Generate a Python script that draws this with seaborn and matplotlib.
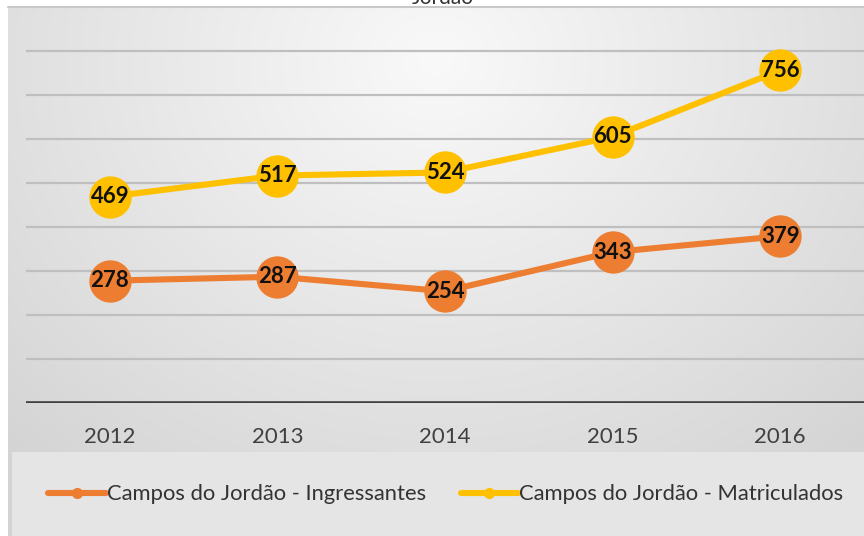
import numpy as np
import pandas as pd
import matplotlib.pyplot as plt
import seaborn as sns
from matplotlib.lines import Line2D
from matplotlib.patches import Rectangle
from matplotlib.colors import LinearSegmentedColormap

# dados do grafico
anos = ['2012', '2013', '2014', '2015', '2016']
ingressantes = [278, 287, 254, 343, 379]
matriculados = [469, 517, 524, 605, 756]
series = ['Campos do Jordão - Ingressantes', 'Campos do Jordão - Matriculados']
cores = ['#ED7D31', '#FFC000']
titulo = 'Jordão'
grade = [100, 200, 300, 400, 500, 600, 700, 800]

df = pd.DataFrame({
    'ano': anos * 2,
    'valor': ingressantes + matriculados,
    'serie': [series[0]] * len(anos) + [series[1]] * len(anos),
})

sns.set_theme(style='white')
plt.rcParams['font.family'] = ['Lato', 'DejaVu Sans']

W, H = 864, 536
fig = plt.figure(figsize=(W / 100, H / 100), dpi=100)
fig.patch.set_facecolor('white')

# fundo cinza com gradiente radial
bg = fig.add_axes([8 / W, 0, 1 - 8 / W, 1 - 7 / H], zorder=0)
yy, xx = np.mgrid[0:1:300j, 0:1:500j]
r = np.sqrt(((xx - 0.5) / 0.75) ** 2 + ((yy - 0.1) / 1.05) ** 2)
cmap = LinearSegmentedColormap.from_list('fundo', ['#f9f9f9', '#d3d3d3'])
bg.imshow(np.clip(r, 0, 1), cmap=cmap, extent=(0, 1, 0, 1), aspect='auto', vmin=0, vmax=1)
bg.add_patch(Rectangle((4 / 856, 0), 1, 84 / 529, transform=bg.transAxes,
                       facecolor='#e5e5e5', edgecolor='none'))
bg.set_xlim(0, 1)
bg.set_ylim(0, 1)
bg.axis('off')
fig.add_artist(Line2D([8 / W, 1], [1 - 7 / H] * 2, color='#c8c8c8', lw=1.5))

# titulo (cortado no topo, como no original)
fig.text(443 / W, 1 - 4 / H, titulo, ha='center', va='baseline', fontsize=15, color='#333333')

ax = fig.add_axes([26 / W, 133 / H, 1 - 26 / W, 396 / H], zorder=1)
ax.patch.set_alpha(0)
for g in grade:
    ax.axhline(g, color='#bfbfbf', lw=1.6, zorder=0)
ax.axhline(0, color='#404040', lw=2.6, zorder=1)

sns.lineplot(data=df, x='ano', y='valor', hue='serie', palette=cores, marker='o',
             markersize=30.5, markeredgewidth=0, linewidth=4.4, legend=False, ax=ax, zorder=3)

for vals in [ingressantes, matriculados]:
    for i, v in enumerate(vals):
        ax.text(i, v, str(v), ha='center', va='center', fontsize=16,
                fontweight='bold', color='#111111', zorder=4)

ax.set_xlim(-0.5, len(anos) - 0.5)
ax.set_ylim(0, 900)
ax.set_yticks([])
ax.set_xlabel('')
ax.set_ylabel('')
ax.tick_params(axis='x', length=0, pad=17, labelsize=16, labelcolor='#404040')
for s in ax.spines.values():
    s.set_visible(False)

handles = [Line2D([0], [0], color=c, lw=4.4, marker='o', markersize=7) for c in cores]
fig.legend(handles, series, loc='center', bbox_to_anchor=(0.516, 0.078), ncol=2,
           frameon=False, fontsize=15.8, handlelength=2.6, handletextpad=0.05,
           columnspacing=1.6, labelcolor='#333333')

fig.savefig('out.png', dpi=100)
